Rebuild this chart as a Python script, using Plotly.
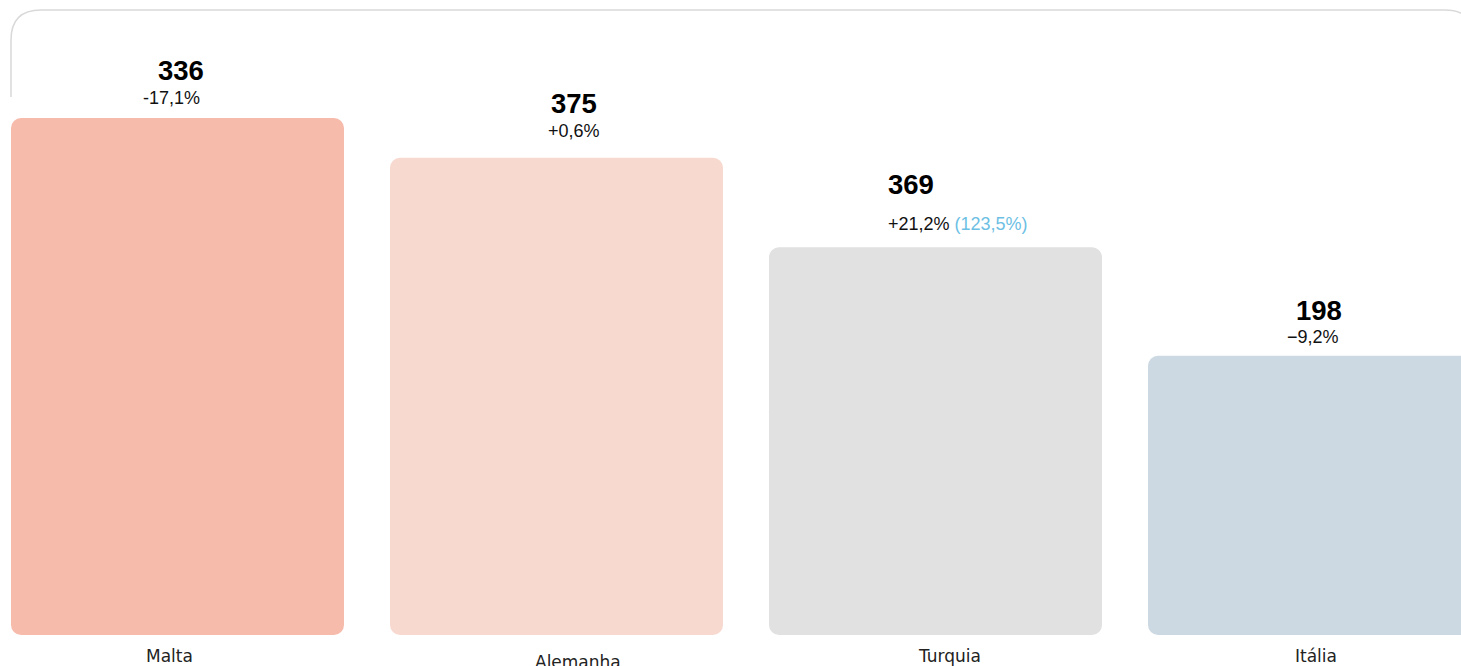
import plotly.graph_objects as go

# ---- data ----
countries = ["Malta", "Alemanha", "Turquia", "Itália"]
values = ["336", "375", "369", "198"]
changes = ["-17,1%", "+0,6%", "+21,2%", "\u22129,2%"]
extra = ["", "", "(123,5%)", ""]
bar_heights = [100.0, 92.3, 75.0, 54.0]   # relative bar length
bar_colors = ["#F7BBAC", "#F8D9CF", "#E1E1E1", "#CCD9E3"]

OFF = 0  # page body margin removed via post_script
W, H = 1461, 666
BOTTOM_PAGE = 635
plot_h = BOTTOM_PAGE - OFF
PLOT_B = H - plot_h
cat_px = 379.0
first_center_px = 177.5 - OFF
x0 = -first_center_px / cat_px
x1 = x0 + W / cat_px
ymax = plot_h / 517.0 * 100.0

fig = go.Figure()
xs = list(range(len(countries)))
bw = 333.0 / cat_px

# bottom part (rounded at bottom end)
fig.add_trace(go.Bar(
    x=xs, y=[-h * 0.6 for h in bar_heights], base=[h * 0.6 for h in bar_heights],
    width=bw, marker=dict(color=bar_colors, line=dict(width=0), cornerradius=10),
    hoverinfo="skip", showlegend=False))
# top part (rounded at top end)
fig.add_trace(go.Bar(
    x=xs, y=[h * 0.6 for h in bar_heights], base=[h * 0.4 for h in bar_heights],
    width=bw, marker=dict(color=bar_colors, line=dict(width=0), cornerradius=10),
    hoverinfo="skip", showlegend=False))

# label offsets (style)
num_shift = [(3, 48), (17, 54), (-49.5, 63), (4.5, 45)]
pct_shift = [(-6, 20), (17, 27), (-49.5, 23), (-1.5, 19)]
num_anchor = ["center", "center", "left", "center"]
lab_shift = [(-8.5, -21), (21, -27), (13.5, -21), (1, -21)]

annotations = []
for i, c in enumerate(countries):
    h = bar_heights[i]
    annotations.append(dict(
        x=i, y=h, xref="x", yref="y", text="<b>%s</b>" % values[i], showarrow=False,
        xanchor=num_anchor[i], yanchor="middle", xshift=num_shift[i][0], yshift=num_shift[i][1],
        font=dict(family="Liberation Sans, Arial", size=27.5, color="#000000")))
    t = changes[i]
    if extra[i]:
        t += " <span style='color:#6DBFE4'>%s</span>" % extra[i]
    annotations.append(dict(
        x=i, y=h, xref="x", yref="y", text=t, showarrow=False,
        xanchor=num_anchor[i], yanchor="middle", xshift=pct_shift[i][0], yshift=pct_shift[i][1],
        font=dict(family="Liberation Sans, Arial", size=18, color="#111111")))
    annotations.append(dict(
        x=i, y=0, xref="x", yref="y", text=c, showarrow=False,
        xanchor="center", yanchor="middle", xshift=lab_shift[i][0], yshift=lab_shift[i][1],
        font=dict(family="DejaVu Sans", size=17, color="#222222")))

def px(xp):
    return (xp - OFF) / W

def py(yp):
    return (plot_h - (yp - OFF)) / plot_h

frame_path = (
    f"M {px(11)},{py(97)} L {px(11)},{py(40)} "
    f"Q {px(11)},{py(10)} {px(41)},{py(10)} "
    f"L {px(1445)},{py(10)} "
    f"Q {px(1475)},{py(10)} {px(1475)},{py(40)}"
)

fig.update_layout(
    width=W, height=H,
    margin=dict(l=0, r=0, t=0, b=PLOT_B),
    barmode="overlay",
    plot_bgcolor="white", paper_bgcolor="white",
    xaxis=dict(range=[x0, x1], showticklabels=False, showgrid=False, zeroline=False,
               showline=False, fixedrange=True),
    yaxis=dict(range=[0, ymax], showticklabels=False, showgrid=False, zeroline=False,
               showline=False, fixedrange=True),
    annotations=annotations,
    shapes=[dict(type="path", xref="paper", yref="paper", path=frame_path,
                 line=dict(color="#D9D9D9", width=1.5), layer="below")],
    showlegend=False,
)

fig.write_html("out.html", config={"displayModeBar": False},
               post_script="document.body.style.margin='0';document.body.style.overflow='hidden';")
